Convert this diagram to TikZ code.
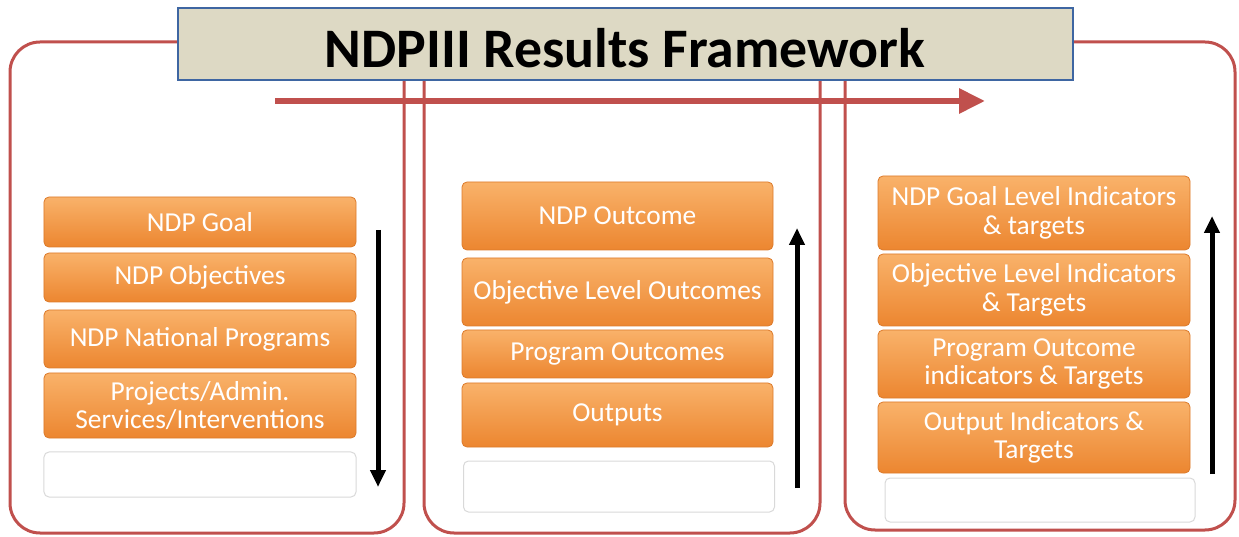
\documentclass[tikz,border=0pt]{standalone}
\usepackage{fontspec}
\setmainfont{Carlito}
\usetikzlibrary{arrows.meta}
\definecolor{panelred}{HTML}{C0504D}
\definecolor{titlefill}{HTML}{DDD9C4}
\definecolor{titleedge}{HTML}{3E66A2}
\definecolor{orangetop}{HTML}{F9B26A}
\definecolor{orangemid}{HTML}{F7963F}
\definecolor{orangebot}{HTML}{EC8630}
\definecolor{orangeedge}{HTML}{DC7A2A}
\tikzset{
  panel/.style={draw=panelred, line width=3bp, rounded corners=30bp},
  obox/.style={rounded corners=5bp, draw=orangeedge, line width=0.8bp,
    top color=orangetop, middle color=orangemid, bottom color=orangebot,
    text=white, font=\fontsize{27.5}{28.5}\selectfont, align=center, inner sep=0pt},
  wbox/.style={rounded corners=5bp, draw=gray!30, line width=1bp, fill=white, inner sep=0pt},
  flow/.style={draw=black, line width=5bp, -{Triangle[length=17bp,width=15bp]}},
  bigflow/.style={draw=panelred, line width=6bp, -{Triangle[length=26bp,width=24bp]}},
  titlebox/.style={draw=titleedge, line width=2.5bp, fill=titlefill, inner sep=0pt,
    font=\fontsize{56}{60}\selectfont\bfseries, text=black},
}
\begin{document}
\begin{tikzpicture}[x=1bp,y=-1bp]
\useasboundingbox (0,0) rectangle (1239,537);
% panels
\draw[panel] (10,42) rectangle (404,533);
\draw[panel] (424,42) rectangle (820,533);
\draw[panel] (845,42) rectangle (1235,530);
% big arrow
\coordinate (ha) at (275,101);
\coordinate (hb) at (985,101);
\draw[bigflow] (ha) -- (hb);
% title
\node[titlebox, minimum width=895bp, minimum height=72bp] (title) at (625.5,44) {};
\node[font=\fontsize{56}{60}\selectfont\bfseries, inner sep=0pt] (ttext) at (625,48) {NDPIII Results Framework};
% left column
\node[obox, minimum width=312bp, minimum height=50bp] (l1) at (200,222) {NDP Goal};
\node[obox, minimum width=312bp, minimum height=49bp] (l2) at (200,277.5) {NDP Objectives};
\node[obox, minimum width=312bp, minimum height=58bp] (l3) at (200,339) {NDP National Programs};
\node[obox, minimum width=312bp, minimum height=65bp] (l4) at (200,405.5) {Projects/Admin.\\Services/Interventions};
\node[wbox, minimum width=312bp, minimum height=45bp] (l5) at (200,474.5) {};
\coordinate (la) at (378,230);
\coordinate (lb) at (378,487);
\draw[flow] (la) -- (lb);
% middle column
\node[obox, minimum width=311bp, minimum height=68bp] (m1) at (617.5,216) {NDP Outcome};
\node[obox, minimum width=311bp, minimum height=68bp] (m2) at (617.5,292) {Objective Level Outcomes};
\node[obox, minimum width=311bp, minimum height=48bp] (m3) at (617.5,354) {Program Outcomes};
\node[obox, minimum width=311bp, minimum height=64bp] (m4) at (617.5,415) {Outputs};
\node[wbox, minimum width=311bp, minimum height=51bp] (m5) at (619,486.5) {};
\coordinate (ma) at (797,488);
\coordinate (mb) at (797,228);
\draw[flow] (ma) -- (mb);
% right column
\node[obox, minimum width=312bp, minimum height=74bp] (r1) at (1034,213) {NDP Goal Level Indicators\\\& targets};
\node[obox, minimum width=312bp, minimum height=72bp] (r2) at (1034,290) {Objective Level Indicators\\\& Targets};
\node[obox, minimum width=312bp, minimum height=68bp] (r3) at (1034,364) {Program Outcome\\indicators \& Targets};
\node[obox, minimum width=312bp, minimum height=71bp] (r4) at (1034,437.5) {Output Indicators \&\\Targets};
\node[wbox, minimum width=310bp, minimum height=44bp] (r5) at (1040,500) {};
\coordinate (ra) at (1212,474);
\coordinate (rb) at (1212,216);
\draw[flow] (ra) -- (rb);
\end{tikzpicture}
\end{document}
